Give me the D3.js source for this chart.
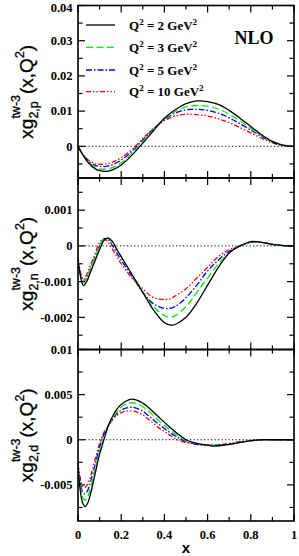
<!DOCTYPE html>
<html>
<head>
<meta charset="utf-8">
<script src="https://cdn.jsdelivr.net/npm/d3@7"></script>
<style>
  html, body { margin: 0; padding: 0; background: #fff; }
  svg { display: block; }
</style>
</head>
<body>
<svg id="chart"></svg>
<script>
(function () {
  'use strict';

  // series labels (Q^2 in GeV^2)
  var qLabels = ['2', '3', '5', '10'];

  // proton panel
  var xP = [0, 0.02, 0.05, 0.08, 0.1, 0.13, 0.16, 0.2, 0.25, 0.3, 0.35, 0.4, 0.45, 0.5, 0.55, 0.6, 0.65, 0.7, 0.75, 0.8, 0.85, 0.9, 0.95, 1.0];
  var p2  = [0, -0.0022, -0.0048, -0.0064, -0.0069, -0.0071, -0.0067, -0.0053, -0.0025, 0.0009, 0.0045, 0.0080, 0.0104, 0.0121, 0.0129, 0.0127, 0.0119, 0.0102, 0.0080, 0.0056, 0.0033, 0.0014, 0.0003, 0];
  var p3  = [0, -0.0022, -0.0046, -0.0059, -0.0064, -0.0065, -0.0060, -0.0047, -0.0020, 0.0014, 0.0048, 0.0078, 0.0099, 0.0112, 0.0116, 0.0114, 0.0106, 0.0091, 0.0072, 0.0051, 0.0031, 0.0013, 0.0003, 0];
  var p5  = [0, -0.0021, -0.0043, -0.0054, -0.0057, -0.0057, -0.0052, -0.0039, -0.0014, 0.0018, 0.0050, 0.0076, 0.0094, 0.0104, 0.0105, 0.0102, 0.0094, 0.0081, 0.0064, 0.0046, 0.0028, 0.0012, 0.0003, 0];
  var p10 = [0, -0.0020, -0.0040, -0.0049, -0.0051, -0.0050, -0.0045, -0.0032, -0.0009, 0.0022, 0.0051, 0.0073, 0.0086, 0.0091, 0.0090, 0.0086, 0.0078, 0.0067, 0.0053, 0.0038, 0.0023, 0.0010, 0.0002, 0];

  // neutron panel
  var xN = [0, 0.01, 0.025, 0.04, 0.06, 0.08, 0.1, 0.12, 0.14, 0.16, 0.18, 0.2, 0.25, 0.3, 0.35, 0.4, 0.43, 0.45, 0.5, 0.55, 0.6, 0.65, 0.7, 0.75, 0.8, 0.85, 0.9, 0.95, 1.0];
  var n2  = [-0.0004, -0.0008, -0.00111, -0.0010, -0.0007, -0.0004, -0.0001, 0.00015, 0.00022, 0.00012, -0.0001, -0.0003, -0.0008, -0.0013, -0.0018, -0.00215, -0.00222, -0.0022, -0.0020, -0.0016, -0.0011, -0.0006, -0.0002, 0.0000, 0.00012, 0.0001, 0.00004, 0.00001, 0];
  var n3  = [-0.0004, -0.0008, -0.00100, -0.0009, -0.0006, -0.0003, 0.0000, 0.0002, 0.0002, 0.0001, -0.0001, -0.0003, -0.0008, -0.0013, -0.0017, -0.00195, -0.00199, -0.00195, -0.0017, -0.0013, -0.0009, -0.0005, -0.0002, 0.0000, 0.0001, 0.0001, 0.00004, 0.00001, 0];
  var n5  = [-0.00035, -0.00075, -0.0010, -0.0009, -0.0006, -0.0003, 0.0000, 0.0002, 0.00018, 0.0000, -0.0002, -0.0004, -0.00085, -0.0013, -0.00162, -0.00175, -0.00174, -0.0017, -0.00145, -0.0011, -0.0007, -0.0004, -0.00015, 0.0000, 0.0001, 0.0001, 0.00004, 0.00001, 0];
  var n10 = [-0.0003, -0.0007, -0.00095, -0.0008, -0.0005, -0.0002, 0.0001, 0.0002, 0.0001, -0.0001, -0.0003, -0.0005, -0.0009, -0.0012, -0.00145, -0.0015, -0.00148, -0.0014, -0.0012, -0.0009, -0.0006, -0.0003, -0.0001, 0.0000, 0.0001, 0.0001, 0.00004, 0.00001, 0];

  // deuteron panel
  var xD = [0, 0.01, 0.02, 0.032, 0.045, 0.06, 0.08, 0.1, 0.12, 0.135, 0.15, 0.18, 0.21, 0.25, 0.29, 0.33, 0.37, 0.42, 0.46, 0.5, 0.55, 0.6, 0.63, 0.7, 0.75, 0.8, 0.85, 0.9, 1.0];
  var d2  = [-0.0030, -0.0055, -0.0069, -0.0074, -0.0070, -0.0058, -0.0037, -0.0016, 0.0000, 0.0012, 0.0021, 0.0034, 0.0041, 0.0045, 0.0042, 0.0035, 0.0026, 0.0015, 0.0007, 0.0000, -0.0004, -0.0006, -0.0007, -0.0005, -0.0003, -0.0001, 0, 0, 0];
  var d3_ = [-0.0028, -0.0050, -0.0063, -0.0067, -0.0063, -0.0052, -0.0032, -0.0012, 0.0003, 0.0012, 0.0020, 0.0031, 0.0038, 0.0041, 0.0038, 0.0031, 0.0022, 0.0012, 0.0005, -0.0001, -0.0004, -0.0006, -0.0006, -0.0005, -0.0003, -0.0001, 0, 0, 0];
  var d5  = [-0.0026, -0.0046, -0.0057, -0.0060, -0.0056, -0.0045, -0.0027, -0.0008, 0.0006, 0.0013, 0.0019, 0.0029, 0.0034, 0.0036, 0.0033, 0.0026, 0.0018, 0.0009, 0.0003, -0.0002, -0.0005, -0.0006, -0.0006, -0.0005, -0.0003, -0.0001, 0, 0, 0];
  var d10 = [-0.0024, -0.0042, -0.0051, -0.0053, -0.0049, -0.0039, -0.0021, -0.0004, 0.0008, 0.0014, 0.0019, 0.0027, 0.0031, 0.0032, 0.0029, 0.0022, 0.0014, 0.0006, 0.0000, -0.0003, -0.0005, -0.0006, -0.0006, -0.0004, -0.0002, -0.0001, 0, 0, 0];

  // tick labels
  var xTickLabels = ['0', '0.2', '0.4', '0.6', '0.8', '1'];
  var pTickLabels = ['0.04', '0.03', '0.02', '0.01', '0'];
  var nTickLabels = ['0.001', '0', '-0.001', '-0.002'];
  var dTickLabels = ['0.01', '0.005', '0', '-0.005'];

  var W = 299, H = 556;
  var left = 78, right = 294;
  var serif = '"Liberation Serif", "Times New Roman", serif';
  var sans = '"Liberation Sans", Arial, sans-serif';

  var styles = [
    { color: '#000000', dash: null },
    { color: '#00ee00', dash: '7,3.5' },
    { color: '#0000ff', dash: '6,2,1.5,2' },
    { color: '#ff0000', dash: '5,2,1.5,2,1.5,2' }
  ];

  var panels = [
    { top: 5.5, bottom: 178, domain: [-0.009, 0.04], major: 0.01, minor: 0.005,
      labels: pTickLabels, xs: xP, series: [p2, p3, p5, p10], sub: '2,p' },
    { top: 178, bottom: 349.5, domain: [-0.0029, 0.0019], major: 0.001, minor: 0.0005,
      labels: nTickLabels, xs: xN, series: [n2, n3, n5, n10], sub: '2,n' },
    { top: 349.5, bottom: 521, domain: [-0.009, 0.01], major: 0.005, minor: 0.0025,
      labels: dTickLabels, xs: xD, series: [d2, d3_, d5, d10], sub: '2,d' }
  ];

  var svg = d3.select('#chart')
      .attr('width', W)
      .attr('height', H)
      .attr('viewBox', '0 0 ' + W + ' ' + H);

  var x = d3.scaleLinear().domain([0, 1]).range([left, right]);

  function steps (lo, hi, step) {
    var out = [];
    var start = Math.ceil(lo / step - 1e-9);
    for (var k = start; k * step <= hi + 1e-12; k++) out.push(+(k * step).toFixed(6));
    return out;
  }

  panels.forEach(function (p, pi) {
    var y = d3.scaleLinear().domain(p.domain).range([p.bottom, p.top]);
    var g = svg.append('g');

    // zero line
    g.append('line')
      .attr('x1', left).attr('x2', right)
      .attr('y1', y(0)).attr('y2', y(0))
      .attr('stroke', '#000')
      .attr('stroke-width', 1)
      .attr('stroke-dasharray', '1.2,2.3');

    // curves
    var clipId = 'clip' + pi;
    svg.append('clipPath').attr('id', clipId)
      .append('rect')
      .attr('x', left).attr('y', p.top)
      .attr('width', right - left).attr('height', p.bottom - p.top);

    var line = d3.line()
      .x(function (d) { return x(d[0]); })
      .y(function (d) { return y(d[1]); })
      .curve(d3.curveCatmullRom.alpha(0.5));

    p.series.slice().reverse().forEach(function (vals, ri) {
      var si = p.series.length - 1 - ri;
      var pts = p.xs.map(function (xv, i) { return [xv, vals[i]]; });
      g.append('path')
        .attr('d', line(pts))
        .attr('clip-path', 'url(#' + clipId + ')')
        .attr('fill', 'none')
        .attr('stroke', styles[si].color)
        .attr('stroke-width', 1.3)
        .attr('stroke-dasharray', styles[si].dash);
    });

    // x ticks, top and bottom, pointing inward
    var xt = steps(0, 1, 0.1);
    xt.forEach(function (t) {
      var isMajor = Math.abs(Math.round(t * 10) % 2) === 0;
      var len = isMajor ? 7 : 4;
      g.append('line')
        .attr('x1', x(t)).attr('x2', x(t))
        .attr('y1', p.bottom).attr('y2', p.bottom - len)
        .attr('stroke', '#000').attr('stroke-width', 1.2);
      g.append('line')
        .attr('x1', x(t)).attr('x2', x(t))
        .attr('y1', p.top).attr('y2', p.top + len)
        .attr('stroke', '#000').attr('stroke-width', 1.2);
    });

    // y ticks, left and right
    var yt = steps(p.domain[0], p.domain[1], p.minor);
    yt.forEach(function (t) {
      var isMajor = Math.abs(Math.round(t / p.minor)) % 2 === 0;
      var len = isMajor ? 7 : 4.5;
      g.append('line')
        .attr('x1', left).attr('x2', left + len)
        .attr('y1', y(t)).attr('y2', y(t))
        .attr('stroke', '#000').attr('stroke-width', 1.2);
      g.append('line')
        .attr('x1', right).attr('x2', right - len)
        .attr('y1', y(t)).attr('y2', y(t))
        .attr('stroke', '#000').attr('stroke-width', 1.2);
    });

    // y tick labels (top one nudged so it stays inside the page)
    p.labels.forEach(function (lab) {
      g.append('text')
        .attr('x', 72.5)
        .attr('y', Math.max(y(+lab) + 4.3, 11.5))
        .attr('text-anchor', 'end')
        .style('font-family', serif)
        .style('font-weight', 'bold')
        .style('font-size', '12.5px')
        .text(lab);
    });

    // frame
    g.append('rect')
      .attr('x', left).attr('y', p.top)
      .attr('width', right - left).attr('height', p.bottom - p.top)
      .attr('fill', 'none')
      .attr('stroke', '#000')
      .attr('stroke-width', 1.6);

    // rotated y label: xg_{sub}^{tw-3}(x,Q^2)
    var lab = svg.append('g');
    var inner = lab.append('g');
    function piece (txt, px, py, size) {
      var t = inner.append('text')
        .attr('x', px).attr('y', py)
        .style('font-family', sans)
        .style('font-size', size + 'px')
        .attr('stroke', '#000')
        .attr('stroke-width', 0.3)
        .text(txt);
      return t.node().getComputedTextLength();
    }
    var w1 = piece('xg', 0, 0, 19);
    var ws = piece(p.sub, w1, 5, 12.5);
    var wt = piece('tw-3', w1, -12.5, 12.5);
    var off = w1 + Math.max(ws, wt) + 1;
    var w3 = piece('(x,Q', off, 0, 19);
    var w4 = piece('2', off + w3, -8.5, 12.5);
    var w5 = piece(')', off + w3 + w4, 0, 19);
    var total = off + w3 + w4 + w5;
    inner.attr('transform', 'translate(' + (-total / 2) + ',0)');
    lab.attr('transform', 'translate(32.5,' + ((p.top + p.bottom) / 2) + ') rotate(-90)');
  });

  // x tick labels
  xTickLabels.forEach(function (lab) {
    svg.append('text')
      .attr('x', x(+lab))
      .attr('y', 538.5)
      .attr('text-anchor', 'middle')
      .style('font-family', serif)
      .style('font-weight', 'bold')
      .style('font-size', '12.5px')
      .text(lab);
  });

  svg.append('text')
    .attr('x', (left + right) / 2)
    .attr('y', 553)
    .attr('text-anchor', 'middle')
    .style('font-family', sans)
    .style('font-weight', 'bold')
    .style('font-size', '15px')
    .text('x');

  // legend
  var legY = [25, 47.3, 70, 91.7];
  qLabels.forEach(function (q, i) {
    svg.append('line')
      .attr('x1', 86).attr('x2', 115)
      .attr('y1', legY[i]).attr('y2', legY[i])
      .attr('stroke', styles[i].color)
      .attr('stroke-width', 1.3)
      .attr('stroke-dasharray', styles[i].dash);
    var t = svg.append('text')
      .attr('x', 129)
      .attr('y', legY[i] + 4.5)
      .style('font-family', serif)
      .style('font-weight', 'bold')
      .style('font-size', '13px');
    t.append('tspan').text('Q');
    t.append('tspan').attr('dy', -5).style('font-size', '9px').text('2');
    t.append('tspan').attr('dy', 5).text(' = ' + q + ' GeV');
    t.append('tspan').attr('dy', -5).style('font-size', '9px').text('2');
  });

  svg.append('text')
    .attr('x', 254)
    .attr('y', 44)
    .attr('text-anchor', 'middle')
    .style('font-family', serif)
    .style('font-weight', 'bold')
    .style('font-size', '18px')
    .text('NLO');
} ());
</script>
</body>
</html>
